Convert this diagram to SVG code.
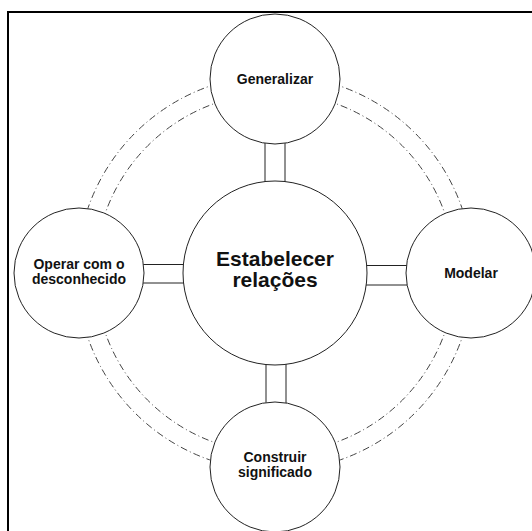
<svg xmlns="http://www.w3.org/2000/svg" width="532" height="531" viewBox="0 0 532 531">
<style>
.node{fill:#fff;stroke:#222;stroke-width:1}
.link{stroke:#222;stroke-width:1;fill:none}
.arc{stroke:#444;stroke-width:1;fill:none;stroke-dasharray:7 3 1 3}
.t{font-family:"Liberation Sans",Arial,sans-serif;font-weight:bold;fill:#111;text-anchor:middle}
.s{font-size:14px}
.c{font-size:21px}
</style>
<rect width="532" height="531" fill="#fff"/>
<path d="M8,540 V12 H540" fill="none" stroke="#000" stroke-width="2"/>
<g id="connectors">
<path class="arc" d="M217.1,83.7 A198,198 0 0 0 85.7,215.1"/>
<path class="arc" d="M332.9,83.7 A198,198 0 0 1 464.3,215.1"/>
<path class="arc" d="M464.3,330.9 A198,198 0 0 1 332.9,462.3"/>
<path class="arc" d="M85.7,330.9 A198,198 0 0 0 217.1,462.3"/>
<path class="arc" d="M222.4,100.9 A180,180 0 0 0 102.9,220.4"/>
<path class="arc" d="M327.6,100.9 A180,180 0 0 1 447.1,220.4"/>
<path class="arc" d="M447.1,325.6 A180,180 0 0 1 327.6,445.1"/>
<path class="arc" d="M102.9,325.6 A180,180 0 0 0 222.4,445.1"/>
<path class="link" d="M265,140 V186 M285,140 V186"/>
<path class="link" d="M266,360 V406 M286,360 V406"/>
<path class="link" d="M140,264.5 H188 M140,283 H188"/>
<path class="link" d="M362,265.5 H410 M362,285 H410"/>
</g>
<g id="center">
<circle class="node" cx="275" cy="273" r="92"/>
<text class="t c" x="275" y="266">Estabelecer</text>
<text class="t c" x="275" y="287">relações</text>
</g>
<g id="generalizar">
<circle class="node" cx="275" cy="79" r="65"/>
<text class="t s" x="275" y="83.5">Generalizar</text>
</g>
<g id="modelar">
<circle class="node" cx="471" cy="273" r="65"/>
<text class="t s" x="471" y="278">Modelar</text>
</g>
<g id="operar">
<circle class="node" cx="79" cy="273" r="65"/>
<text class="t s" x="79" y="269">Operar com o</text>
<text class="t s" x="79" y="283.5">desconhecido</text>
</g>
<g id="construir">
<circle class="node" cx="275" cy="467" r="65"/>
<text class="t s" x="275" y="461.5">Construir</text>
<text class="t s" x="275" y="476.5">significado</text>
</g>
</svg>
